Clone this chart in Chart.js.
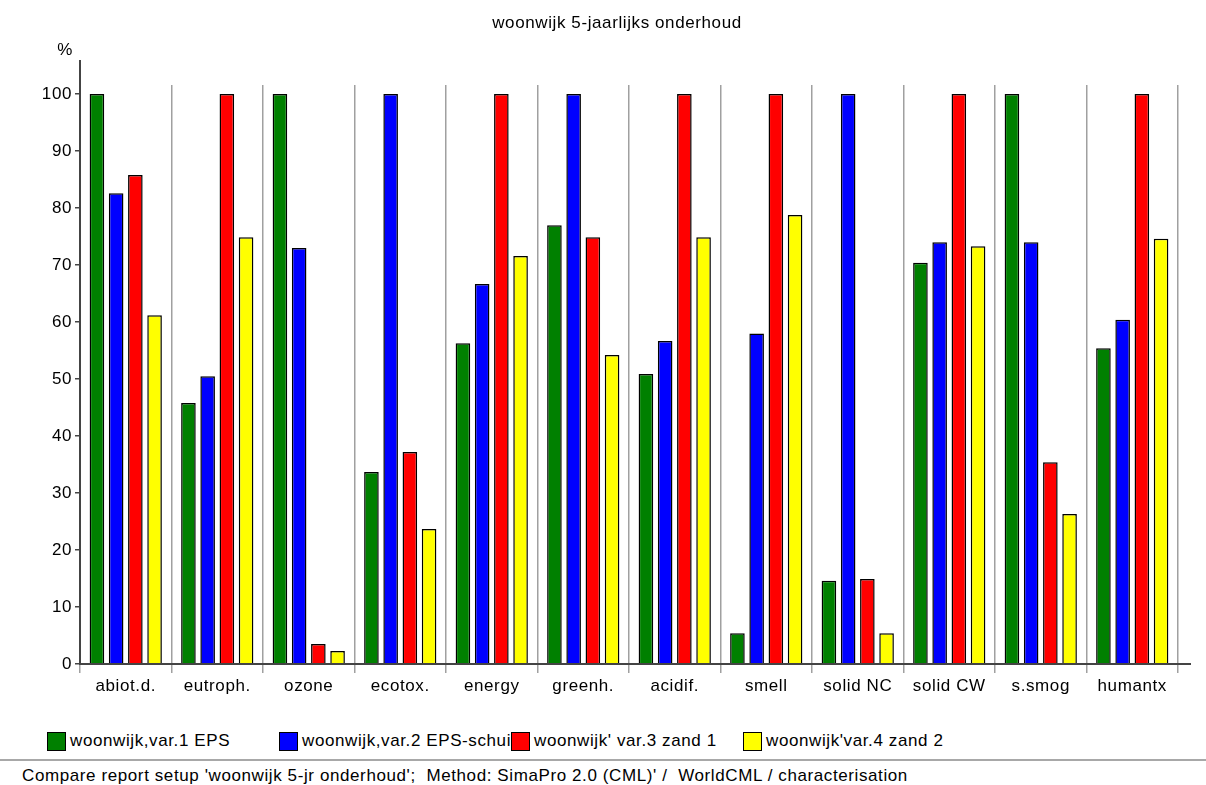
<!DOCTYPE html>
<html>
<head>
<meta charset="utf-8">
<script src="https://cdn.jsdelivr.net/npm/chart.js@4.4.0/dist/chart.umd.min.js"></script>
<style>
  html, body { margin: 0; padding: 0; background: #fff; width: 1206px; height: 785px; overflow: hidden;
    font-family: "Liberation Sans", Arial, sans-serif; color: #000; }
  #wrap { position: absolute; left: 0; top: 0; width: 1206px; height: 715px; }
  #legend { position: absolute; left: 47px; top: 731px; display: flex; }
  .item { width: 232px; overflow: hidden; white-space: nowrap; display: flex; align-items: center; font-size: 17px; letter-spacing: 0.6px; }
  .box { width: 19px; height: 19px; border: 1.5px solid #000; box-sizing: border-box; margin-right: 4px; flex: none; }
  #rule { position: absolute; left: 0; width: 1206px; top: 759px; height: 2px; background: #a8a8a8; }
  #footer { position: absolute; left: 22px; top: 766px; font-size: 17px; letter-spacing: 0.6px; white-space: pre; }
</style>
</head>
<body>
<div id="wrap"><canvas id="chart"></canvas></div>
<div id="legend"></div>
<div id="rule"></div>
<div id="footer">Compare report setup 'woonwijk 5-jr onderhoud';  Method: SimaPro 2.0 (CML)' /  WorldCML / characterisation</div>
<script>
const title = 'woonwijk 5-jaarlijks onderhoud';
const unit = '%';
const categories = ['abiot.d.', 'eutroph.', 'ozone', 'ecotox.', 'energy', 'greenh.', 'acidif.', 'smell', 'solid NC', 'solid CW', 's.smog', 'humantx'];
const var1Eps = [100, 45.8, 100, 33.7, 56.3, 77.0, 50.9, 5.4, 14.6, 70.4, 100, 55.4];
const var2EpsSch = [82.6, 50.5, 73.0, 100, 66.7, 100, 56.7, 58.0, 100, 74.0, 74.0, 60.4];
const var3Zand1 = [85.8, 100, 3.5, 37.2, 100, 74.9, 100, 100, 14.9, 100, 35.4, 100];
const var4Zand2 = [61.2, 74.9, 2.3, 23.7, 71.6, 54.2, 74.9, 78.8, 5.4, 73.3, 26.3, 74.6];
const seriesNames = ['woonwijk,var.1 EPS', 'woonwijk,var.2 EPS-schuim', "woonwijk' var.3 zand 1", "woonwijk'var.4 zand 2"];
const seriesColors = ['#008000', '#0000ff', '#ff0000', '#ffff00'];
const yTicks = [0, 10, 20, 30, 40, 50, 60, 70, 80, 90, 100];

const FONT = '"Liberation Sans", Arial, sans-serif';
Chart.defaults.font.family = FONT;
Chart.defaults.font.size = 17;
Chart.defaults.color = '#000';

const seriesValues = [var1Eps, var2EpsSch, var3Zand1, var4Zand2];

// the old report font is a bit wider than Arial, so space the letters out
const spacing = {
  id: 'spacing',
  beforeLayout(chart) { chart.ctx.letterSpacing = '0.6px'; },
  beforeDraw(chart) { chart.ctx.letterSpacing = '0.6px'; }
};

// title, % label and the axis stubs that stick out past the plot
const decor = {
  id: 'decor',
  afterDraw(chart) {
    const ctx = chart.ctx, a = chart.chartArea;
    ctx.save();
    ctx.strokeStyle = '#444';
    ctx.lineWidth = 2;
    ctx.beginPath();
    ctx.moveTo(a.left, 60);
    ctx.lineTo(a.left, a.bottom + 1);
    ctx.moveTo(a.left, a.bottom);
    ctx.lineTo(a.right + 13, a.bottom);
    ctx.stroke();
    ctx.fillStyle = '#000';
    ctx.font = '17px ' + FONT;
    ctx.textAlign = 'center';
    ctx.textBaseline = 'middle';
    ctx.fillText(title, 617, 23);
    ctx.fillText(unit, 65, 50);
    ctx.restore();
  }
};

new Chart(document.getElementById('chart'), {
  type: 'bar',
  data: {
    labels: categories,
    datasets: seriesNames.map((name, i) => ({
      label: name,
      data: seriesValues[i],
      backgroundColor: seriesColors[i],
      borderColor: '#000',
      borderWidth: 1.5,
      categoryPercentage: 0.84,
      barPercentage: 0.76
    }))
  },
  options: {
    responsive: true,
    maintainAspectRatio: false,
    animation: false,
    layout: { padding: { top: 85, right: 28, bottom: 1, left: 0 } },
    plugins: { legend: { display: false }, tooltip: { enabled: false }, title: { display: false } },
    scales: {
      x: {
        grid: { offset: true, color: '#a0a0a0', lineWidth: 1.5, tickLength: 9, drawOnChartArea: true },
        border: { display: false },
        ticks: { padding: 3, maxRotation: 0, autoSkip: false },
        afterFit(s) { s.height = 50; }
      },
      y: {
        min: 0,
        max: 101.6,
        afterBuildTicks(s) { s.ticks = yTicks.map(v => ({ value: v })); },
        grid: { drawOnChartArea: false, drawTicks: true, tickLength: 5, tickColor: '#444', lineWidth: 1.5 },
        border: { display: false },
        ticks: { padding: 3 },
        afterFit(s) { s.width = 80; }
      }
    }
  },
  plugins: [spacing, decor]
});

const legend = document.getElementById('legend');
seriesNames.forEach((name, i) => {
  const item = document.createElement('div');
  item.className = 'item';
  const box = document.createElement('span');
  box.className = 'box';
  box.style.background = seriesColors[i];
  const txt = document.createElement('span');
  txt.textContent = name;
  item.appendChild(box);
  item.appendChild(txt);
  legend.appendChild(item);
});
</script>
</body>
</html>
